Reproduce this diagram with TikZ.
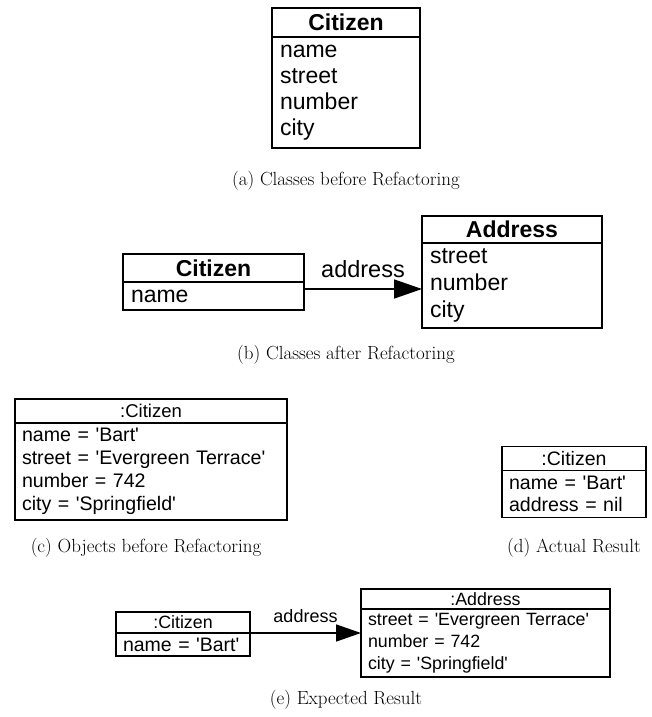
\documentclass[tikz,border=0pt]{standalone}
\usepackage{fontspec}
\newfontfamily\uml{Liberation Sans}
\usetikzlibrary{positioning, arrows.meta}

\newcommand\sqt{\textquotesingle}

\tikzset{
  clshead/.style={draw, line width=2pt, outer sep=0pt, inner sep=0pt, font=\uml\bfseries\fontsize{23}{26}\selectfont},
  clsbody/.style={draw, line width=2pt, outer sep=0pt, inner xsep=8pt, inner ysep=0pt, align=left, font=\uml\fontsize{23}{26}\selectfont},
  objhead/.style={draw, line width=1.6pt, outer sep=0pt, inner sep=0pt, font=\uml\fontsize{18.5}{22}\selectfont},
  objbody/.style={draw, line width=1.6pt, outer sep=0pt, inner xsep=7pt, inner ysep=0pt, align=left, font=\uml\fontsize{19.6}{23}\selectfont},
  assoc/.style={-{Triangle[length=28pt, width=19pt]}, line width=1.6pt},
  caption/.style={font=\fontsize{19}{23}\selectfont}
}

\begin{document}
\begin{tikzpicture}[x=1pt, y=-1pt]
    \useasboundingbox (0,0) rectangle (652,717);

    % (a) classes before refactoring
    \node[clshead, minimum width=148pt, minimum height=29pt] (citA) at (346,22.5) {Citizen};
    \node[clsbody, minimum width=148pt, minimum height=111pt, text width=132pt, below=0pt of citA] (citAattr)
        {name\\street\\number\\city};
    \node[caption] (capA) at (346,181) {(a) Classes before Refactoring};

    % (b) classes after refactoring
    \node[clshead, minimum width=181pt, minimum height=28pt] (citB) at (213.5,268) {Citizen};
    \node[clsbody, minimum width=181pt, minimum height=28pt, text width=165pt, below=0pt of citB] (citBattr) {name};
    \node[clshead, minimum width=180pt, minimum height=27pt] (addrB) at (512,229.5) {Address};
    \node[clsbody, minimum width=180pt, minimum height=85pt, text width=164pt, below=0pt of addrB,
        font=\uml\fontsize{23}{27}\selectfont] (addrBattr) {street\\number\\city};
    \draw[assoc] ([yshift=7pt]citBattr.east) -- ([yshift=7pt]citBattr.east -| addrBattr.west)
        node[midway, above=7pt, font=\uml\fontsize{23.5}{26}\selectfont] (assocB) {address};
    \node[caption] (capB) at (346,355) {(b) Classes after Refactoring};

    % (c) objects before refactoring
    \node[objhead, minimum width=272pt, minimum height=24pt] (citC) at (151,411) {:Citizen};
    \node[objbody, minimum width=272pt, minimum height=97pt, text width=258pt, below=0pt of citC] (citCattr)
        {name = \sqt Bart\sqt\\street = \sqt Evergreen Terrace\sqt\\number = 742\\city = \sqt Springfield\sqt};
    \node[caption] (capC) at (146,548) {(c) Objects before Refactoring};

    % (d) actual result
    \node[objhead, minimum width=144pt, minimum height=24pt, font=\uml\fontsize{19.5}{22}\selectfont] (citD) at (574,458.5) {:Citizen};
    \node[objbody, minimum width=144pt, minimum height=47pt, text width=130pt, below=0pt of citD,
        font=\uml\fontsize{19.6}{22}\selectfont] (citDattr) {name = \sqt Bart\sqt\\address = nil};
    \node[caption] (capD) at (574,548) {(d) Actual Result};

    % (e) expected result
    \node[objhead, minimum width=134pt, minimum height=21pt, font=\uml\fontsize{17.8}{22}\selectfont] (citE) at (183,622.5) {:Citizen};
    \node[objbody, minimum width=134pt, minimum height=23pt, text width=120pt, below=0pt of citE,
        font=\uml\fontsize{19.5}{22}\selectfont] (citEattr) {name = \sqt Bart\sqt};
    \node[objhead, minimum width=249pt, minimum height=20pt, font=\uml\fontsize{17.8}{22}\selectfont] (addrE) at (485.5,599) {:Address};
    \node[objbody, minimum width=249pt, minimum height=68pt, text width=235pt, below=0pt of addrE,
        font=\uml\fontsize{17.8}{22}\selectfont] (addrEattr)
        {street = \sqt Evergreen Terrace\sqt\\number = 742\\city = \sqt Springfield\sqt};
    \draw[assoc, -{Triangle[length=25pt, width=17pt]}] (citEattr.north east) -- (citEattr.north east -| addrEattr.west)
        node[midway, above=6pt, font=\uml\fontsize{18}{22}\selectfont] (assocE) {address};
    \node[caption] (capE) at (346,700) {(e) Expected Result};

\end{tikzpicture}
\end{document}
